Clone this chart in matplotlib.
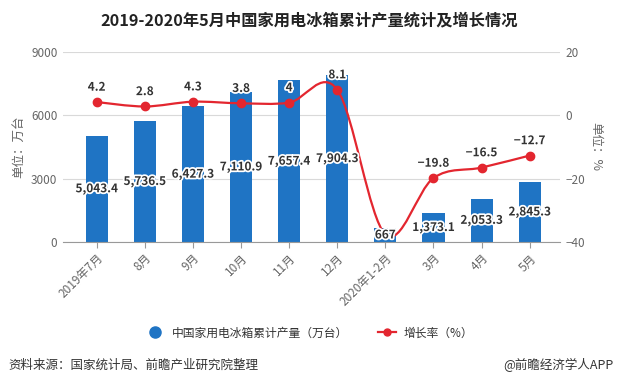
import numpy as np
import matplotlib
matplotlib.use("Agg")
import matplotlib.pyplot as plt
import matplotlib.patheffects as pe
from matplotlib.path import Path
from matplotlib.patches import PathPatch
from matplotlib.lines import Line2D

plt.rcParams['font.family'] = ['Noto Sans CJK SC', 'DejaVu Sans']

# data
months = ['2019年7月', '8月', '9月', '10月', '11月', '12月', '2020年1-2月', '3月', '4月', '5月']
output = [5043.4, 5736.5, 6427.3, 7110.9, 7657.4, 7904.3, 667, 1373.1, 2053.3, 2845.3]
growth = [4.2, 2.8, 4.3, 3.8, 4.0, 8.1, -37.6, -19.8, -16.5, -12.7]
growth_labels = ['4.2', '2.8', '4.3', '3.8', '4', '8.1', '', '−19.8', '−16.5', '−12.7']

bar_color = '#1f74c4'
line_color = '#e3262f'
text_color = '#333333'
axis_color = '#666666'

fig = plt.figure(figsize=(6.19, 3.86), dpi=100)
ax = fig.add_axes([63 / 619, 1 - 242 / 386, (560 - 63) / 619, (242 - 52) / 386])
ax2 = ax.twinx()

x = np.arange(len(months))
ax.bar(x, output, width=0.46, color=bar_color, zorder=2)
ax.set_xlim(-0.7, 9.63)
ax.set_ylim(0, 9000)
ax.set_yticks([0, 3000, 6000, 9000])
ax.grid(axis='y', color='#d9d9d9', lw=0.8, zorder=0)
ax.set_axisbelow(True)
ax.set_xticks(x)
ax.set_xticklabels(months, rotation=45, ha='right', rotation_mode='anchor')
for s in ['top', 'right', 'left']:
    ax.spines[s].set_visible(False)
ax.spines['bottom'].set_color('#999999')
ax.tick_params(axis='x', colors='#999999', labelcolor=axis_color, labelsize=8.5, length=4, pad=3)
ax.tick_params(axis='y', length=0, labelcolor=axis_color, labelsize=8.5, pad=4)
ax.set_ylabel('单位：万台', color=axis_color, fontsize=9, labelpad=4)

ax2.set_ylim(-40, 20)
ax2.set_yticks([-40, -20, 0, 20])
for s in ax2.spines.values():
    s.set_visible(False)
ax2.tick_params(axis='y', length=0, labelcolor=axis_color, labelsize=8.5, pad=4)
ax2.set_ylabel('单位：%', color=axis_color, fontsize=9, rotation=-90, labelpad=12)

# smooth curve (Catmull-Rom via bezier)
pts = list(zip(x.astype(float), growth))
verts = [pts[0]]
codes = [Path.MOVETO]
n = len(pts)
for i in range(n - 1):
    p0 = np.array(pts[max(i - 1, 0)])
    p1 = np.array(pts[i])
    p2 = np.array(pts[i + 1])
    p3 = np.array(pts[min(i + 2, n - 1)])
    c1 = p1 + (p2 - p0) / 6
    c2 = p2 - (p3 - p1) / 6
    verts += [tuple(c1), tuple(c2), tuple(p2)]
    codes += [Path.CURVE4] * 3
ax2.add_patch(PathPatch(Path(verts, codes), fill=False, ec=line_color, lw=1.6, zorder=3))
# the 1-2月 marker is hidden under the bar label in the original
shown = [i for i in range(n) if growth_labels[i]]
ax2.plot(x, growth, 'o', color=line_color, ms=6, zorder=4, ls='none', markevery=shown)

stroke = [pe.withStroke(linewidth=2.5, foreground='white')]
for xi, g, lab in zip(x, growth, growth_labels):
    if lab:
        ax2.annotate(lab, (xi, g), xytext=(0, 6), textcoords='offset points', ha='center',
                     va='bottom', fontsize=8.5, fontweight='bold', color=text_color,
                     path_effects=stroke, zorder=6)
for xi, v in zip(x, output):
    lab = f'{v:,.0f}' if v == int(v) else f'{v:,.1f}'
    ax2.text(xi, -40 + v / 9000 * 60 / 2, lab,
             ha='center', va='center', fontsize=8.5, fontweight='bold', color=text_color,
             path_effects=stroke, zorder=6)

fig.text(0.5, 1 - 20 / 386, '2019-2020年5月中国家用电冰箱累计产量统计及增长情况',
         ha='center', va='center', fontsize=11.7, fontweight='bold', color='#222222')

handles = [Line2D([], [], ls='none', marker='o', ms=8, color=bar_color),
           Line2D([], [], color=line_color, marker='o', ms=5, lw=1.6)]
fig.legend(handles, ['中国家用电冰箱累计产量（万台）', '增长率（%）'], loc='center',
           bbox_to_anchor=(0.5, 1 - 333 / 386), ncol=2, frameon=False, fontsize=8.5,
           handlelength=1.6, columnspacing=2.5, handletextpad=0.6, labelcolor=text_color)

fig.text(8 / 619, 1 - 365 / 386, '资料来源：国家统计局、前瞻产业研究院整理', ha='left', va='center',
         fontsize=9, color=text_color)
fig.text(613 / 619, 1 - 365 / 386, '@前瞻经济学人APP', ha='right', va='center',
         fontsize=9, color=text_color)

fig.savefig('out.png', dpi=100)
